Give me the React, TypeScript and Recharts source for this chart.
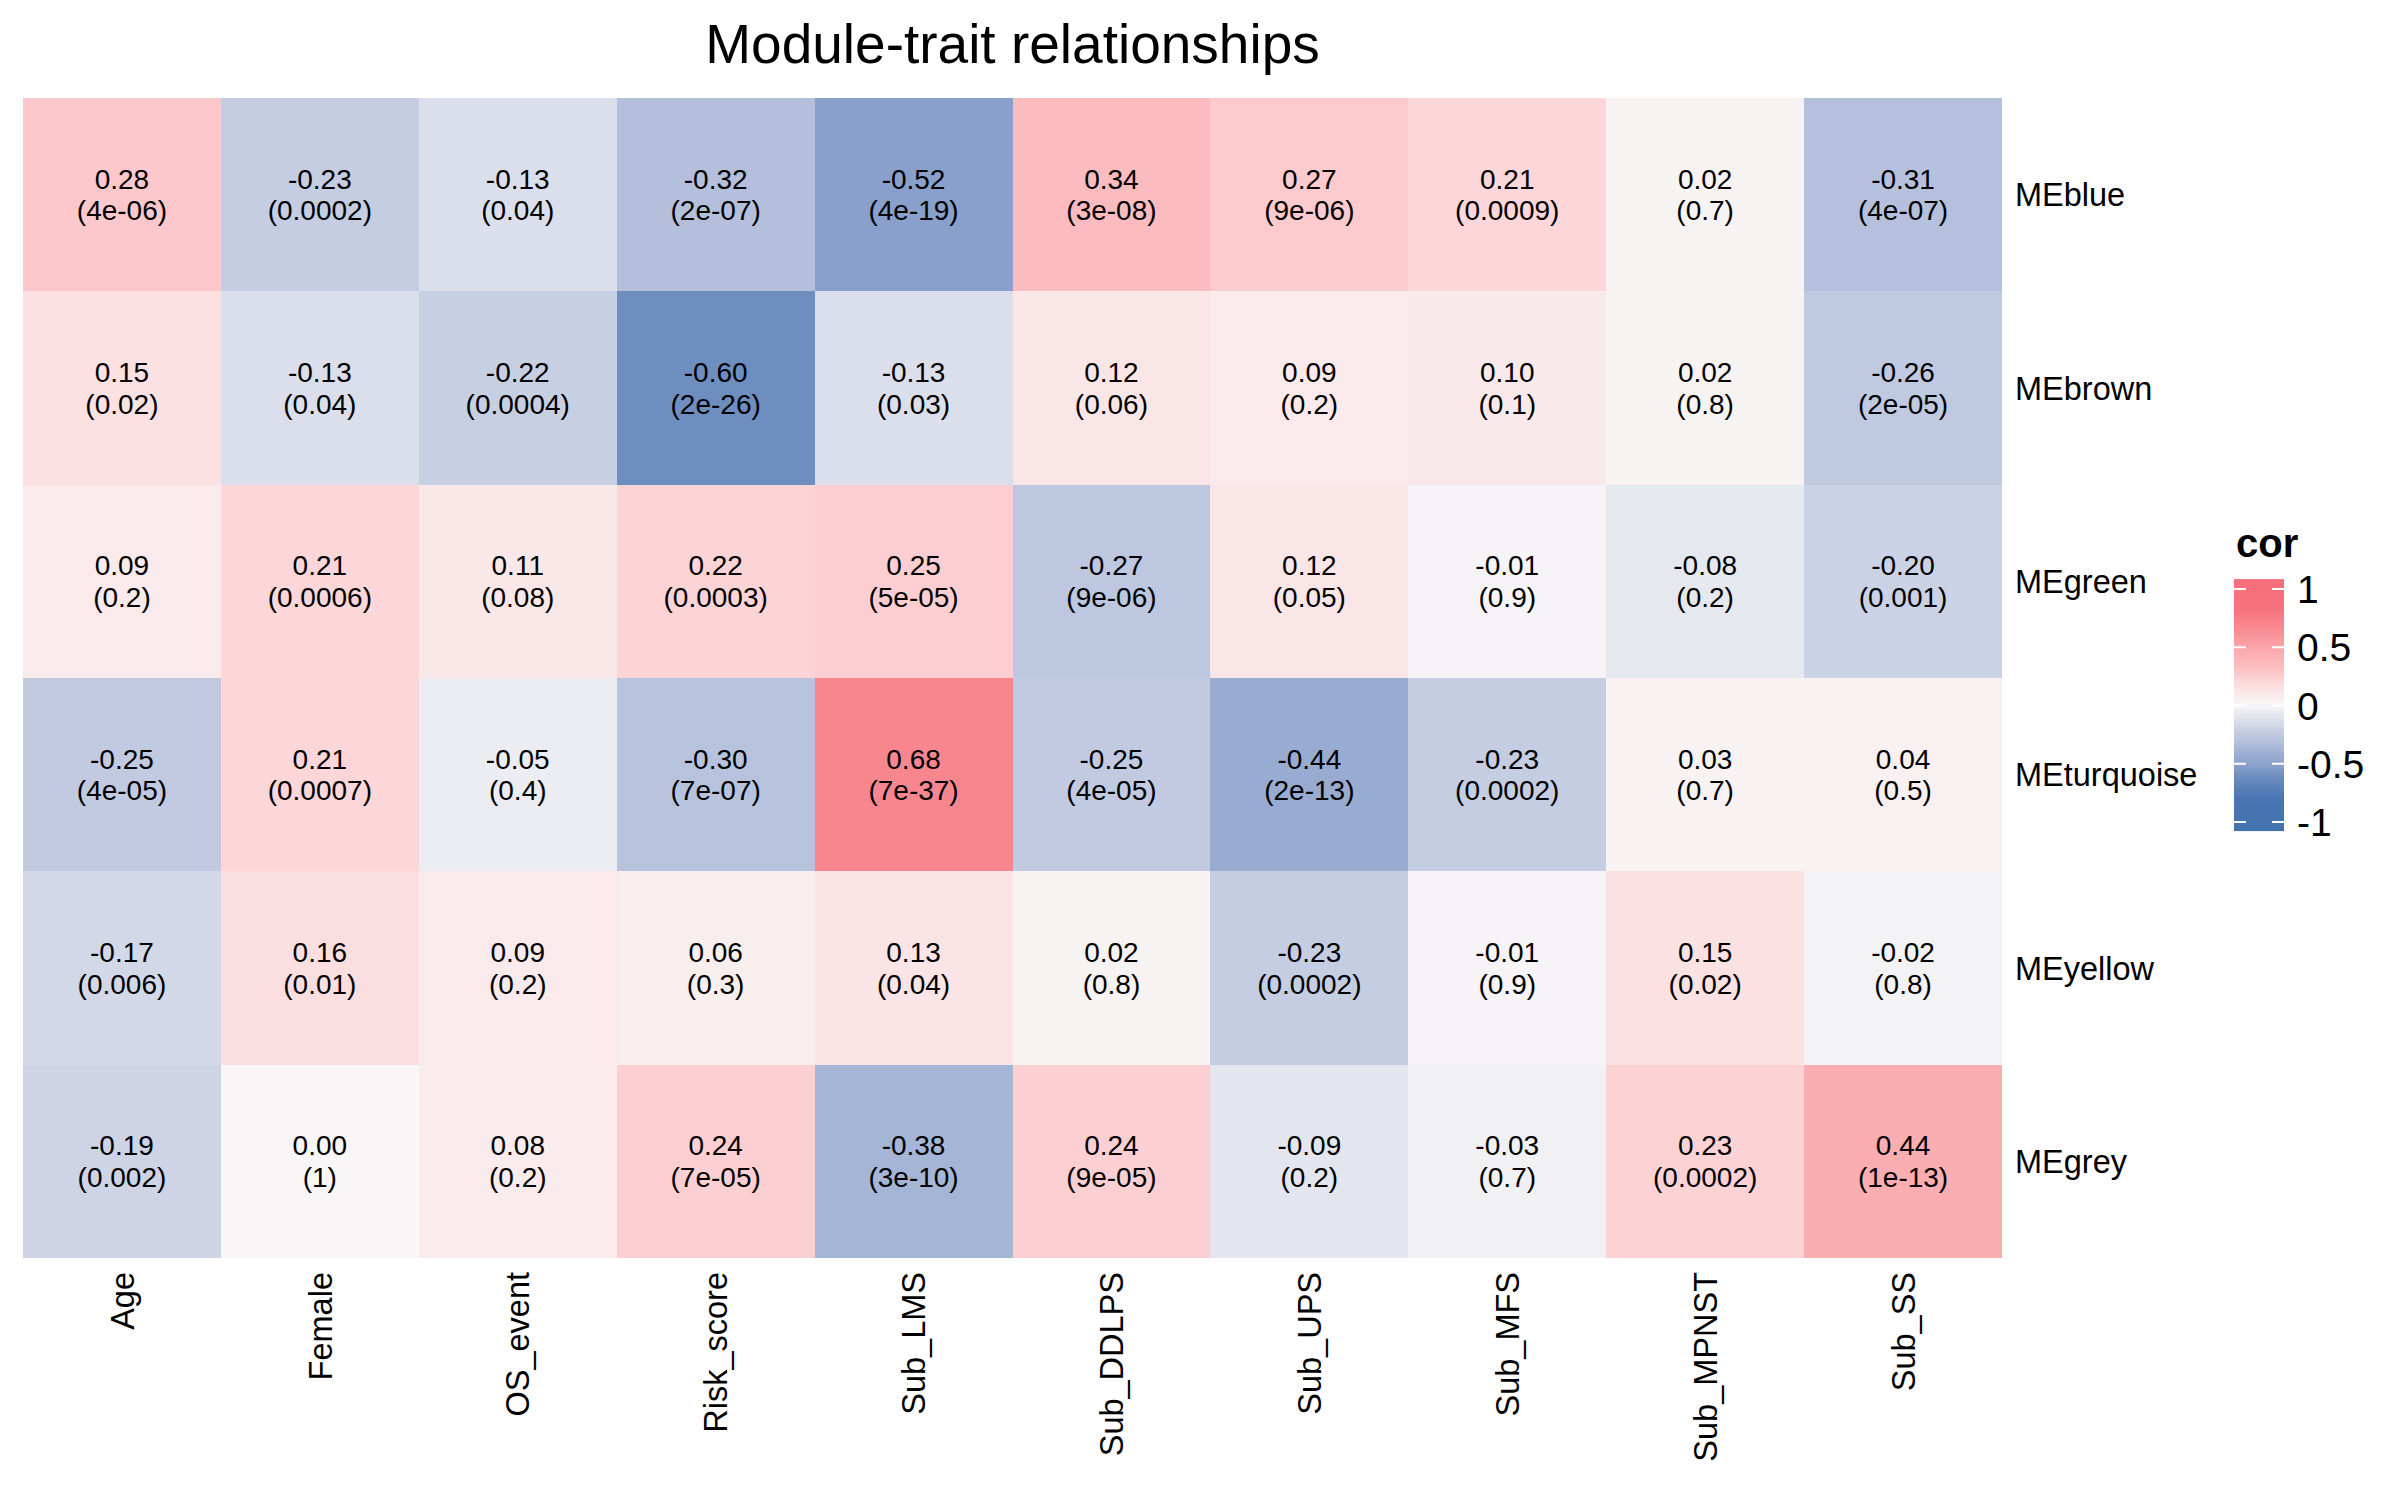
import React from 'react';
import { ScatterChart, Scatter, XAxis, YAxis, Legend, Customized } from 'recharts';

// Traits (columns) and module eigengenes (rows)
const traits = ['Age', 'Female', 'OS_event', 'Risk_score', 'Sub_LMS', 'Sub_DDLPS', 'Sub_UPS', 'Sub_MFS', 'Sub_MPNST', 'Sub_SS'];
const modules = ['MEblue', 'MEbrown', 'MEgreen', 'MEturquoise', 'MEyellow', 'MEgrey'];

// Correlation of each module with each trait, and its p-value label
const corBlue = [0.28, -0.23, -0.13, -0.32, -0.52, 0.34, 0.27, 0.21, 0.02, -0.31];
const pBlue = ['4e-06', '0.0002', '0.04', '2e-07', '4e-19', '3e-08', '9e-06', '0.0009', '0.7', '4e-07'];

const corBrown = [0.15, -0.13, -0.22, -0.6, -0.13, 0.12, 0.09, 0.1, 0.02, -0.26];
const pBrown = ['0.02', '0.04', '0.0004', '2e-26', '0.03', '0.06', '0.2', '0.1', '0.8', '2e-05'];

const corGreen = [0.09, 0.21, 0.11, 0.22, 0.25, -0.27, 0.12, -0.01, -0.08, -0.2];
const pGreen = ['0.2', '0.0006', '0.08', '0.0003', '5e-05', '9e-06', '0.05', '0.9', '0.2', '0.001'];

const corTurquoise = [-0.25, 0.21, -0.05, -0.3, 0.68, -0.25, -0.44, -0.23, 0.03, 0.04];
const pTurquoise = ['4e-05', '0.0007', '0.4', '7e-07', '7e-37', '4e-05', '2e-13', '0.0002', '0.7', '0.5'];

const corYellow = [-0.17, 0.16, 0.09, 0.06, 0.13, 0.02, -0.23, -0.01, 0.15, -0.02];
const pYellow = ['0.006', '0.01', '0.2', '0.3', '0.04', '0.8', '0.0002', '0.9', '0.02', '0.8'];

const corGrey = [-0.19, 0.0, 0.08, 0.24, -0.38, 0.24, -0.09, -0.03, 0.23, 0.44];
const pGrey = ['0.002', '1', '0.2', '7e-05', '3e-10', '9e-05', '0.2', '0.7', '0.0002', '1e-13'];

const corRows = [corBlue, corBrown, corGreen, corTurquoise, corYellow, corGrey];
const pRows = [pBlue, pBrown, pGreen, pTurquoise, pYellow, pGrey];

// Colour-bar tick labels
const legendTicks = [1, 0.5, 0, -0.5, -1];

// Diverging fill scale: blue -> near white -> red
const colorStops: [number, number[]][] = [
  [-1.1, [66, 114, 176]],
  [-0.8, [72, 118, 178]],
  [-0.6, [111, 142, 192]],
  [-0.52, [136, 160, 203]],
  [-0.44, [152, 171, 208]],
  [-0.31, [181, 193, 220]],
  [-0.23, [197, 205, 226]],
  [-0.13, [219, 223, 235]],
  [-0.05, [236, 237, 242]],
  [0, [248, 246, 247]],
  [0.02, [248, 243, 243]],
  [0.09, [250, 234, 235]],
  [0.15, [251, 225, 226]],
  [0.21, [252, 214, 216]],
  [0.28, [253, 200, 203]],
  [0.34, [252, 187, 190]],
  [0.44, [251, 174, 178]],
  [0.68, [248, 134, 143]],
  [0.85, [245, 113, 125]],
  [1.1, [245, 112, 124]],
];

const corColor = (v: number) => {
  if (v <= colorStops[0][0]) return `rgb(${colorStops[0][1].join(',')})`;
  for (let i = 1; i < colorStops.length; i++) {
    const [v1, c1] = colorStops[i];
    if (v <= v1) {
      const [v0, c0] = colorStops[i - 1];
      const t = (v - v0) / (v1 - v0);
      const c = c0.map((a, k) => Math.round(a + (c1[k] - a) * t));
      return `rgb(${c.join(',')})`;
    }
  }
  return `rgb(${colorStops[colorStops.length - 1][1].join(',')})`;
};

const FONT = "'Liberation Sans', Arial, Helvetica, sans-serif";

const W = 2400;
const H = 1500;
const MARGIN = { top: 98, right: 0, bottom: 0, left: 23 };
const X_AXIS_H = 242;
const Y_AXIS_W = 398;
const PLOT_W = W - MARGIN.left - MARGIN.right - Y_AXIS_W;
const PLOT_H = H - MARGIN.top - MARGIN.bottom - X_AXIS_H;
const CELL_W = PLOT_W / traits.length;
const CELL_H = PLOT_H / modules.length;

const cells = modules.flatMap((m, r) =>
  traits.map((t, c) => ({ x: c + 0.5, y: r + 0.5, module: m, trait: t, cor: corRows[r][c], p: pRows[r][c] }))
);

const Tile = (props: any) => {
  const { cx, cy, payload } = props;
  if (cx == null || cy == null) return null;
  return (
    <g>
      <rect
        x={cx - CELL_W / 2}
        y={cy - CELL_H / 2}
        width={CELL_W}
        height={CELL_H}
        fill={corColor(payload.cor)}
        shapeRendering="crispEdges"
      />
      <text x={cx} y={cy - 6} textAnchor="middle" fontSize={28} fontFamily={FONT} fill="#000">
        {payload.cor.toFixed(2)}
      </text>
      <text x={cx} y={cy + 25.5} textAnchor="middle" fontSize={28} fontFamily={FONT} fill="#000">
        {`(${payload.p})`}
      </text>
    </g>
  );
};

const TraitTick = (props: any) => {
  const { x, y, payload } = props;
  const label = traits[Math.floor(payload.value)];
  return (
    <text
      x={x}
      y={y}
      transform={`rotate(-90, ${x}, ${y})`}
      textAnchor="end"
      dy="0.36em"
      fontSize={32.5}
      fontFamily={FONT}
      fill="#000"
    >
      {label}
    </text>
  );
};

const ModuleTick = (props: any) => {
  const { x, y, payload } = props;
  const label = modules[Math.floor(payload.value)];
  return (
    <text x={x} y={y} textAnchor="start" dy="0.36em" fontSize={32.5} fontFamily={FONT} fill="#000">
      {label}
    </text>
  );
};

// Colour bar legend
const LEG_LEFT = 2200;
const LEG_TOP = 500;
const BAR_X = 34;
const BAR_W = 50;
const BAR_MAX = 1.085;
const BAR_MIN = -1.078;
const UNIT = 116.5;
const ZERO_Y = 205.5;
const vy = (v: number) => ZERO_Y - v * UNIT;

const ColorBar = () => {
  const n = 40;
  const stops = Array.from({ length: n + 1 }, (_, i) => {
    const v = BAR_MAX - ((BAR_MAX - BAR_MIN) * i) / n;
    return { off: i / n, color: corColor(v) };
  });
  return (
    <svg width={200} height={360} style={{ display: 'block', fontFamily: FONT }}>
      <defs>
        <linearGradient id="corGrad" x1="0" y1="0" x2="0" y2="1">
          {stops.map((s, i) => (
            <stop key={i} offset={s.off} stopColor={s.color} />
          ))}
        </linearGradient>
      </defs>
      <text x={36} y={57} fontSize={40} fontWeight="bold" fill="#000">
        cor
      </text>
      <rect x={BAR_X} y={vy(BAR_MAX)} width={BAR_W} height={vy(BAR_MIN) - vy(BAR_MAX)} fill="url(#corGrad)" />
      {legendTicks.map((t) => (
        <g key={t}>
          <line x1={BAR_X} x2={BAR_X + 12} y1={vy(t)} y2={vy(t)} stroke="#fff" strokeWidth={2} />
          <line x1={BAR_X + BAR_W - 12} x2={BAR_X + BAR_W} y1={vy(t)} y2={vy(t)} stroke="#fff" strokeWidth={2} />
          <text x={97} y={vy(t) + 14} fontSize={39} fill="#000">
            {String(t)}
          </text>
        </g>
      ))}
    </svg>
  );
};

const Title = () => (
  <text x={MARGIN.left + PLOT_W / 2} y={63} textAnchor="middle" fontSize={55} fontFamily={FONT} fill="#000">
    Module-trait relationships
  </text>
);

export default function App() {
  return (
    <div style={{ position: 'absolute', left: 0, top: 0, width: W, height: H, background: '#fff', fontFamily: FONT }}>
      <ScatterChart width={W} height={H} margin={MARGIN}>
        <XAxis
          type="number"
          dataKey="x"
          domain={[0, traits.length]}
          ticks={traits.map((_, i) => i + 0.5)}
          interval={0}
          height={X_AXIS_H}
          axisLine={false}
          tickLine={false}
          tickSize={0}
          tickMargin={14}
          tick={<TraitTick />}
        />
        <YAxis
          type="number"
          dataKey="y"
          domain={[0, modules.length]}
          ticks={modules.map((_, i) => i + 0.5)}
          interval={0}
          reversed
          orientation="right"
          width={Y_AXIS_W}
          axisLine={false}
          tickLine={false}
          tickSize={0}
          tickMargin={13}
          tick={<ModuleTick />}
        />
        <Scatter data={cells} shape={<Tile />} isAnimationActive={false} />
        <Legend
          verticalAlign="middle"
          layout="horizontal"
          wrapperStyle={{ left: LEG_LEFT, top: LEG_TOP, width: 200, height: 360 }}
          content={() => <ColorBar />}
        />
        <Customized component={Title} />
      </ScatterChart>
    </div>
  );
}
